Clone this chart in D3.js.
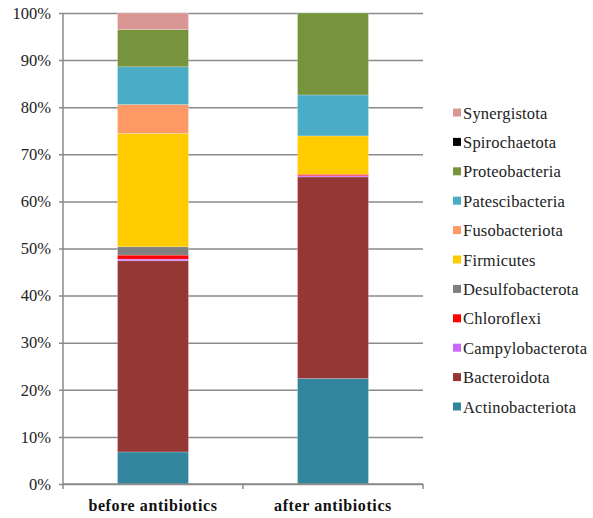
<!DOCTYPE html>
<html>
<head>
<meta charset="utf-8">
<script src="https://cdn.jsdelivr.net/npm/d3@7"></script>
<style>
  html, body { margin: 0; padding: 0; background: #fff; }
</style>
</head>
<body>
<svg id="chart" width="593" height="518"></svg>
<script>
// Sample groups along the x axis
const groups = ["before antibiotics", "after antibiotics"];

// Phyla, stacked bottom to top
const phyla = ["Actinobacteriota", "Bacteroidota", "Campylobacterota", "Chloroflexi",
  "Desulfobacterota", "Firmicutes", "Fusobacteriota", "Patescibacteria",
  "Proteobacteria", "Spirochaetota", "Synergistota"];

// Relative abundance (%) per phylum, same order as phyla
const beforeValues = [6.8, 40.6, 0.35, 0.85, 1.76, 24.07, 6.15, 8.0, 7.9, 0.0, 3.52];
const afterValues  = [22.4, 42.8, 0.25, 0.3, 0.0, 8.15, 0.0, 8.7, 17.4, 0.0, 0.0];

const phylumColors = ["#31859C", "#953735", "#CC66FF", "#FF0000", "#7F7F7F",
  "#FFCC00", "#FF9966", "#4BACC6", "#77933C", "#000000", "#D99694"];

const yTicks = [0, 10, 20, 30, 40, 50, 60, 70, 80, 90, 100];

const FONT = "'Liberation Serif'";

const svg = d3.select("#chart");
const margin = { left: 63, right: 170, top: 13, bottom: 34 };
const W = 593, H = 518;

const x = d3.scaleBand().domain(groups)
  .range([margin.left, W - margin.right]).paddingInner(0.606).paddingOuter(0.303);
const y = d3.scaleLinear().domain([0, 100]).range([H - margin.bottom, margin.top]);

const rows = groups.map((g, i) => {
  const vals = i === 0 ? beforeValues : afterValues;
  const r = { group: g };
  phyla.forEach((p, j) => r[p] = vals[j]);
  return r;
});
const stacked = d3.stack().keys(phyla)(rows);

// Gridlines with ticks on the left
const yAxis = d3.axisLeft(y).tickValues(yTicks).tickFormat(d => d + "%")
  .tickSize(-(W - margin.right - margin.left)).tickPadding(12);
const gy = svg.append("g").attr("transform", `translate(${margin.left},0)`).call(yAxis)
  .attr("font-family", FONT);
gy.select(".domain").remove();
gy.selectAll(".tick line").attr("stroke", "#8a8a8a").attr("stroke-width", 1.5)
  .attr("x1", -4);
gy.selectAll(".tick text").attr("fill", "#222").attr("font-size", 16.5)
  .attr("font-family", FONT);

// Stacked bars
svg.append("g").selectAll("g").data(stacked).join("g")
  .attr("fill", (d, i) => phylumColors[i])
  .selectAll("rect").data(d => d).join("rect")
  .attr("x", d => x(d.data.group))
  .attr("width", x.bandwidth())
  .attr("y", d => y(d[1]))
  .attr("height", d => Math.max(0, y(d[0]) - y(d[1])))
  .attr("stroke", "rgba(255,255,255,0.35)").attr("stroke-width", 0.6);

// Vertical axis line
svg.append("line").attr("x1", margin.left).attr("x2", margin.left)
  .attr("y1", y(100)).attr("y2", y(0))
  .attr("stroke", "#8a8a8a").attr("stroke-width", 1.5);

// Category axis
const xStart = margin.left, xEnd = W - margin.right;
const gx = svg.append("g");
gx.append("line").attr("x1", xStart).attr("x2", xEnd).attr("y1", y(0)).attr("y2", y(0))
  .attr("stroke", "#8a8a8a").attr("stroke-width", 1.5);
[0, 1, 2].forEach(i => {
  const tx = xStart + i * (xEnd - xStart) / 2;
  gx.append("line").attr("x1", tx).attr("x2", tx).attr("y1", y(0)).attr("y2", y(0) + 5)
    .attr("stroke", "#8a8a8a").attr("stroke-width", 1.5);
});
gx.selectAll("text.cat").data(groups).join("text").attr("class", "cat")
  .attr("x", d => x(d) + x.bandwidth() / 2)
  .attr("y", y(0) + 27)
  .attr("text-anchor", "middle")
  .attr("font-family", FONT)
  .attr("font-size", 16).attr("font-weight", "bold")
  .attr("letter-spacing", "0.6")
  .attr("fill", "#111")
  .text(d => d);

// Legend, top entry is the last stacked phylum
const legendOrder = phyla.slice().reverse();
const lg = svg.append("g").attr("font-family", FONT);
legendOrder.forEach((p, i) => {
  const cy = 113 + i * 29.4;
  const col = phylumColors[phyla.indexOf(p)];
  lg.append("rect").attr("x", 453).attr("y", cy - 4.5).attr("width", 8).attr("height", 8)
    .attr("fill", col);
  lg.append("text").attr("x", 463).attr("y", cy + 5.5)
    .attr("font-family", FONT)
    .attr("font-size", 16.5).attr("letter-spacing", "0.2")
    .attr("fill", "#222").text(p);
});
</script>
</body>
</html>
